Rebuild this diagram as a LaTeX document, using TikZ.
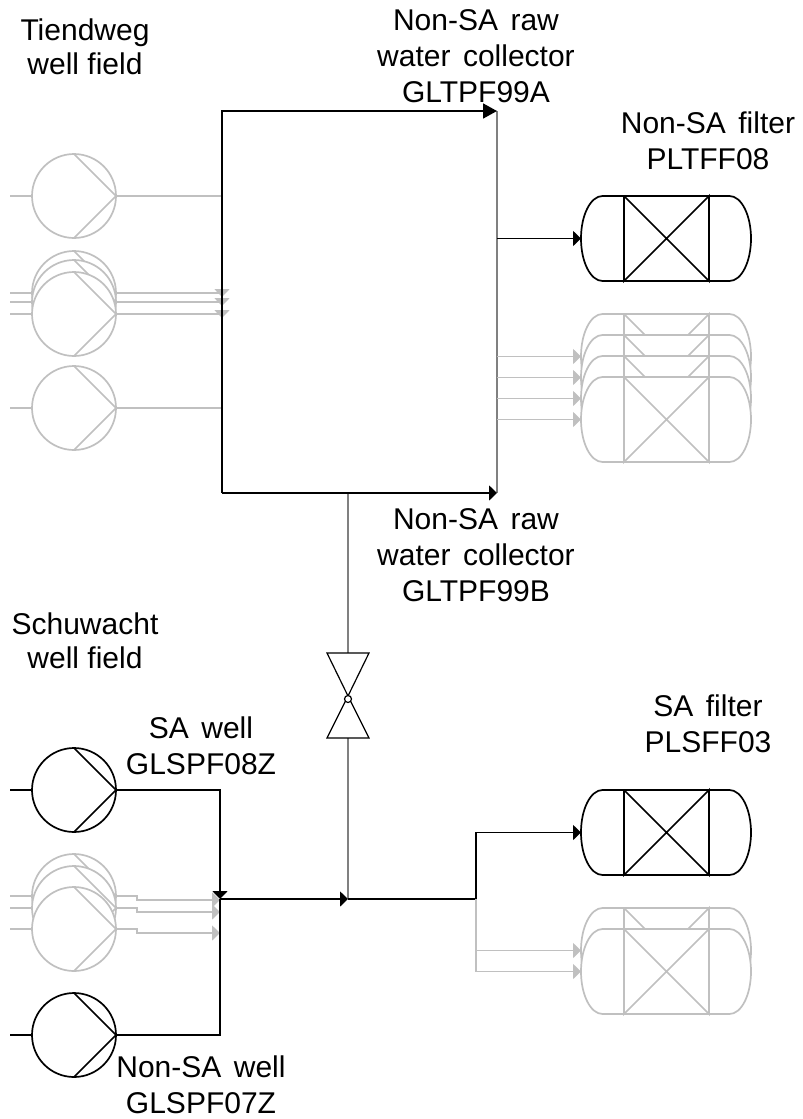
\documentclass[tikz,border=0pt]{standalone}
\usepackage{fontspec}
\setmainfont{Liberation Sans}
\newfontfamily\tagface[WordSpace=1.5]{Liberation Sans}
\usepackage{xcolor}
\usepackage{tikz}
\usetikzlibrary{arrows.meta,calc}
\definecolor{faded}{HTML}{C0C0C0}
\definecolor{midgrey}{HTML}{808080}
\tikzset{head/.tip={Triangle[length=8pt,width=15pt]}}
\tikzset{longhead/.tip={Triangle[length=14pt,width=15pt]}}
\newcommand{\pumpunit}[3]{%
    \node [pump,draw=#3] (#1) at (74,#2) {};
    \draw [#3] (#1.north) -- (#1.east) -- (#1.south);
    \coordinate (#1in) at (10,#2);
    \draw [#3] (#1in) -- (#1.west);
}
\newcommand{\filterunit}[3]{%
    \node [vessel] (#1) at (666,#2) {};
    \draw [#3,fill=white] (#1.north west) ++(21.5,0) -- ++(127,0)
        arc [start angle=90,end angle=-90,x radius=21.5,y radius=42.5] -- ++(-127,0)
        arc [start angle=-90,end angle=-270,x radius=21.5,y radius=42.5] -- cycle;
    \draw [#3] (#1.north west) ++(43,0) -- ++(0,-85) -- ++(85,85) -- ++(0,-85) -- ++(-85,85);
}
\begin{document}
\begin{tikzpicture}[x=1pt,y=1pt,line width=1.7pt]
    \tikzstyle{every node}+=[inner sep=0pt]
    \tikzstyle{pump}=[circle,fill=white,minimum size=84pt,outer sep=0pt]
    \tikzstyle{vessel}=[minimum width=170pt,minimum height=85pt,outer sep=0pt]
    \tikzstyle{fieldtag}=[align=center,font=\fontsize{30}{34.5}\selectfont]
    \tikzstyle{tag}=[align=center,font=\tagface\fontsize{30}{36}\selectfont]
    \useasboundingbox (0,0) rectangle (803,-1119);

    \coordinate (collTL) at (222,-111);
    \coordinate (collTR) at (497,-111);
    \coordinate (collBL) at (222,-493);
    \coordinate (collBR) at (497,-493);
    \coordinate (tapB) at (348,-493);
    \coordinate (mergeS) at (220,-899);
    \coordinate (tapS) at (348,-899);
    \coordinate (splitS) at (476,-899);
    \coordinate (valveTop) at (348,-653);
    \coordinate (valveBot) at (348,-738);

    \pumpunit{pumpTa}{-196}{faded}
    \pumpunit{pumpTb}{-293}{faded}
    \pumpunit{pumpTc}{-302}{faded}
    \pumpunit{pumpTd}{-314}{faded}
    \pumpunit{pumpTe}{-408}{faded}
    \draw [faded] (pumpTa.east) -- (collTL |- pumpTa.east);
    \draw [faded] (pumpTe.east) -- (collTL |- pumpTe.east);
    \draw [faded,-{head}] (pumpTb.east) -| ($(collTL |- pumpTb.east)+(0,-4)$);
    \draw [faded,-{head}] (pumpTc.east) -| ($(collTL |- pumpTc.east)+(0,-4)$);
    \draw [faded,-{head}] (pumpTd.east) -| ($(collTL |- pumpTd.east)+(0,-4)$);

    \draw [midgrey,line width=1.3pt] (collTR) -- (collBR);
    \draw [midgrey,line width=1.3pt] (tapB) -- (valveTop);
    \draw [midgrey,line width=1.3pt] (valveBot) -- (tapS);
    \draw [black,-{longhead}] (collBL) -- (collTL) -- (collTR);
    \draw [black,-{head}] (collBL) -- (collBR);

    \filterunit{filterTa}{-238.5}{black}
    \filterunit{filterTb}{-356.5}{faded}
    \filterunit{filterTc}{-377.5}{faded}
    \filterunit{filterTd}{-398.5}{faded}
    \filterunit{filterTe}{-419.5}{faded}
    \draw [black,-{head}] (collTR |- filterTa.west) -- (filterTa.west);
    \draw [faded,-{head}] (collTR |- filterTb.west) -- (filterTb.west);
    \draw [faded,-{head}] (collTR |- filterTc.west) -- (filterTc.west);
    \draw [faded,-{head}] (collTR |- filterTd.west) -- (filterTd.west);
    \draw [faded,-{head}] (collTR |- filterTe.west) -- (filterTe.west);

    \draw [black,line width=1.2pt] (valveTop) ++(-21,0) -- ++(42,0) -- (348,-696) -- cycle;
    \draw [black,line width=1.2pt] (valveBot) ++(-21,0) -- ++(42,0) -- (348,-696) -- cycle;
    \node [circle,draw=black,fill=white,line width=1.2pt,minimum size=7pt] (valveBall) at (348,-699) {};

    \pumpunit{pumpSa}{-790}{black}
    \pumpunit{pumpSb}{-896}{faded}
    \pumpunit{pumpSc}{-908}{faded}
    \pumpunit{pumpSd}{-929}{faded}
    \pumpunit{pumpSe}{-1035}{black}
    \draw [faded,-{head}] (pumpSb.east) -- ++(21,0) -- ++(0,-4) -- (mergeS |- 0,-900);
    \draw [faded,-{head}] (pumpSc.east) -- ++(21,0) -- ++(0,-4) -- (mergeS |- 0,-912);
    \draw [faded,-{head}] (pumpSd.east) -- ++(21,0) -- ++(0,-4) -- (mergeS |- 0,-933);
    \draw [black,-{head}] (pumpSa.east) -| (mergeS);
    \draw [black] (pumpSe.east) -| (mergeS);
    \draw [black,-{head}] (mergeS) -- (tapS);
    \draw [black] (tapS) -- (splitS);

    \filterunit{filterSa}{-832.5}{black}
    \filterunit{filterSb}{-950.5}{faded}
    \filterunit{filterSc}{-971.5}{faded}
    \draw [faded,-{head}] (splitS |- filterSb.west) -- (filterSb.west);
    \draw [faded,-{head}] (splitS) |- (filterSc.west);
    \draw [black,-{head}] (splitS) |- (filterSa.west);

    \node [fieldtag] (fieldT) at (85,-47) {Tiendweg\\well field};
    \node [tag] (collA) at (476,-56) {Non-SA raw\\water collector\\GLTPF99A};
    \node [tag] (nameTa) at (708,-140.5) {Non-SA filter\\PLTFF08};
    \node [tag] (collB) at (476,-555) {Non-SA raw\\water collector\\GLTPF99B};
    \node [fieldtag] (fieldS) at (85,-641) {Schuwacht\\well field};
    \node [tag] (nameSa) at (201,-745.5) {SA well\\GLSPF08Z};
    \node [tag] (nameFa) at (708,-724) {SA filter\\PLSFF03};
    \node [tag] (nameSe) at (201,-1085) {Non-SA well\\GLSPF07Z};
\end{tikzpicture}
\end{document}
